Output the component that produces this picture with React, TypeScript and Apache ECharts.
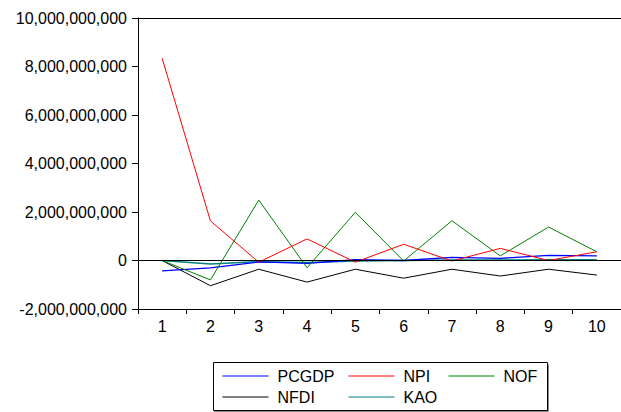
import React, { useEffect, useRef } from "react";
import * as echarts from "echarts";

const categories = ["1", "2", "3", "4", "5", "6", "7", "8", "9", "10"];
const B = 1e9;
const pcgdp = [-0.43, -0.3, -0.06, -0.12, 0.03, 0.0, 0.13, 0.09, 0.21, 0.19].map((v) => v * B);
const npi = [8.34, 1.63, -0.07, 0.89, -0.07, 0.67, -0.02, 0.5, 0.0, 0.36].map((v) => v * B);
const nof = [0.0, -0.8, 2.49, -0.3, 1.99, -0.02, 1.64, 0.19, 1.38, 0.36].map((v) => v * B);
const nfdi = [0.0, -1.04, -0.36, -0.89, -0.36, -0.73, -0.36, -0.64, -0.36, -0.6].map((v) => v * B);
const kao = [0.0, -0.14, -0.05, -0.08, -0.02, 0.0, 0.02, 0.02, 0.03, 0.03].map((v) => v * B);

const FONT = "'Liberation Sans', Arial, Helvetica, sans-serif";

export default function App() {
  const ref = useRef<HTMLDivElement>(null);
  useEffect(() => {
    if (!ref.current) return;
    const chart = echarts.init(ref.current, undefined, { renderer: "svg" });
    const line = (name: string, data: number[], color: string, width = 1, extra: any = {}) => ({
      name,
      type: "line",
      data,
      symbol: "none",
      showSymbol: false,
      lineStyle: { color, width },
      itemStyle: { color },
      ...extra,
    });
    const legendBase = {
      orient: "vertical",
      top: 368,
      padding: 0,
      itemWidth: 46,
      itemHeight: 16,
      itemGap: 5,
      selectedMode: false,
      itemStyle: { opacity: 0 },
      lineStyle: { width: 1 },
      textStyle: { fontFamily: FONT, fontSize: 16, color: "#000", padding: [0, 0, 0, 4] },
    };
    chart.setOption({
      animation: false,
      backgroundColor: "#fff",
      grid: { left: 138, right: 0, top: 18, bottom: 103 },
      xAxis: [
        {
          type: "category",
          data: categories,
          boundaryGap: true,
          position: "bottom",
          axisLine: { onZero: false, lineStyle: { color: "#000", width: 1 } },
          axisTick: { show: true, length: 5, lineStyle: { color: "#000" } },
          axisLabel: { fontFamily: FONT, fontSize: 16, color: "#000", margin: 9 },
          splitLine: { show: false },
        },
        {
          type: "category",
          data: categories,
          position: "top",
          axisLine: { onZero: false, lineStyle: { color: "#000", width: 1 } },
          axisTick: { show: false },
          axisLabel: { show: false },
          splitLine: { show: false },
        },
      ],
      yAxis: {
        type: "value",
        min: -2 * B,
        max: 10 * B,
        interval: 2 * B,
        axisLine: { show: true, lineStyle: { color: "#000", width: 1 } },
        axisTick: { show: true, length: 6, lineStyle: { color: "#000" } },
        axisLabel: {
          fontFamily: FONT,
          fontSize: 16,
          color: "#000",
          margin: 11,
          formatter: (v: number) => v.toLocaleString("en-US"),
        },
        splitLine: { show: false },
      },
      legend: [
        { ...legendBase, left: 222, data: ["PCGDP", "NFDI"] },
        { ...legendBase, left: 348, data: ["NPI", "KAO"] },
        { ...legendBase, left: 448, data: ["NOF"] },
      ],
      graphic: [
        {
          type: "rect",
          z: 0,
          shape: { x: 213.5, y: 362.5, width: 334, height: 48 },
          style: {
            fill: "#fff",
            stroke: "#000",
            lineWidth: 1,
            shadowColor: "rgba(0,0,0,0.45)",
            shadowOffsetX: 1,
            shadowOffsetY: 2,
            shadowBlur: 1,
          },
        },
      ],
      series: [
        line("KAO", kao, "#008080", 1.5, {
          markLine: {
            silent: true,
            symbol: ["none", "none"],
            label: { show: false },
            lineStyle: { color: "#000", type: "solid", width: 1 },
            data: [{ yAxis: 0 }],
          },
        }),
        line("NFDI", nfdi, "#000000", 1),
        line("PCGDP", pcgdp, "#0000ff", 1.3),
        line("NOF", nof, "#008000", 1),
        line("NPI", npi, "#ff0000", 1),
      ],
    });
    return () => chart.dispose();
  }, []);
  return <div ref={ref} style={{ position: "fixed", left: 0, top: 0, width: 621, height: 412 }} />;
}
